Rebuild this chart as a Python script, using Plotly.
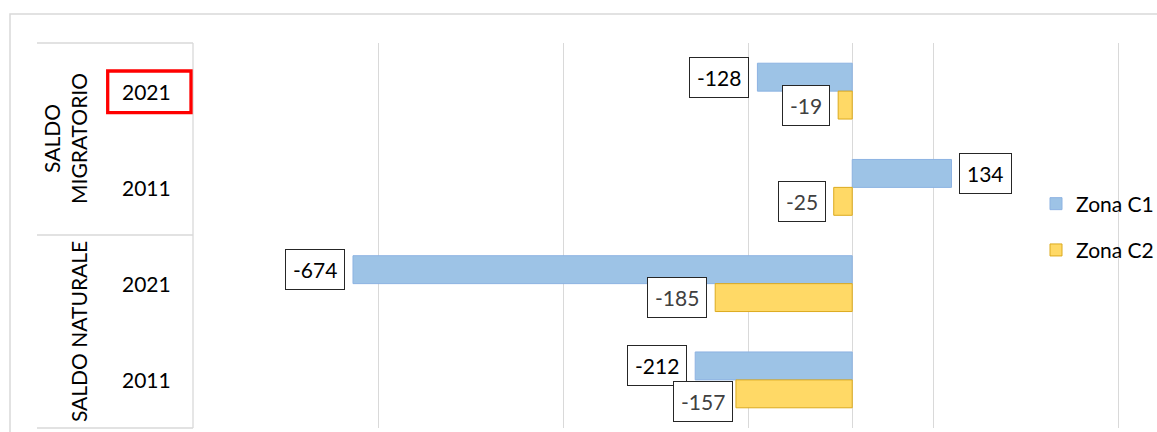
import plotly.graph_objects as go

# ---- data ----
groups = ["SALDO MIGRATORIO", "SALDO MIGRATORIO", "SALDO NATURALE", "SALDO NATURALE"]
years = ["2021", "2011", "2021", "2011"]
categories = ["SM 2021", "SM 2011", "SN 2021", "SN 2011"]
zona_c1 = [-128, 134, -674, -212]
zona_c2 = [-19, -25, -185, -157]
series_names = ["Zona C1", "Zona C2"]

FONT = "Lato, 'Open Sans', sans-serif"
W, H = 1157, 432
ML, MR, MT, MB = 193, 0, 43, 4
PLOT_RIGHT = 1119
PW, PH = W - ML - MR, H - MT - MB


def px_x(px):
    return (px - ML) / PW


def px_y(py):
    return (H - MB - py) / PH


fig = go.Figure()
fig.add_trace(go.Bar(
    y=categories, x=zona_c1, name=series_names[0], orientation="h",
    marker=dict(color="#9dc3e6", line=dict(color="#8db3e2", width=1)),
    legendgroup="c1",
))
fig.add_trace(go.Bar(
    y=categories, x=zona_c2, name=series_names[1], orientation="h",
    marker=dict(color="#ffd966", line=dict(color="#dcaa1e", width=1)),
    legendgroup="c2",
))

annotations = []
# data labels
overrides = {("c2", 3): (-3, -8)}
for key, vals, col, ysh in (("c1", zona_c1, "#000000", 14), ("c2", zona_c2, "#404040", -14)):
    for i, (cat, v) in enumerate(zip(categories, vals)):
        dx, dy = overrides.get((key, i), (-8 if v < 0 else 8, 0))
        annotations.append(dict(
            x=v, y=cat, xref="x", yref="y", text=str(v), showarrow=False,
            xanchor="right" if v < 0 else "left", yanchor="middle",
            xshift=dx, yshift=ysh + dy,
            font=dict(family=FONT, size=21, color=col),
            bordercolor="#262626", borderwidth=1, borderpad=7, bgcolor="#ffffff",
        ))

# category axis labels (years)
for i, (cat, yr) in enumerate(zip(categories, years)):
    annotations.append(dict(
        x=px_x(146), y=cat, xref="paper", yref="y", text=yr, showarrow=False,
        xanchor="center", yanchor="middle",
        font=dict(family=FONT, size=21, color="#000000"),
    ))

# group labels (rotated)
annotations.append(dict(
    x=px_x(93), y=px_y(139), xref="paper", yref="paper", text="SALDO<br>MIGRATORIO",
    showarrow=False, textangle=-90, xanchor="right", yanchor="middle",
    font=dict(family=FONT, size=21, color="#000000"),
))
annotations.append(dict(
    x=px_x(93), y=px_y(331.5), xref="paper", yref="paper", text="SALDO NATURALE",
    showarrow=False, textangle=-90, xanchor="right", yanchor="middle",
    font=dict(family=FONT, size=21, color="#000000"),
))

grid_col = "#d9d9d9"
shapes = [
    # chart outer border
    dict(type="rect", xref="paper", yref="paper", x0=px_x(10), x1=px_x(1200), y0=px_y(470), y1=px_y(14),
         line=dict(color=grid_col, width=1.5), fillcolor="rgba(0,0,0,0)", layer="below"),
    # category table lines
    dict(type="line", xref="paper", yref="paper", x0=px_x(37), x1=px_x(193), y0=px_y(43), y1=px_y(43),
         line=dict(color=grid_col, width=1.3)),
    dict(type="line", xref="paper", yref="paper", x0=px_x(37), x1=px_x(193), y0=px_y(235), y1=px_y(235),
         line=dict(color=grid_col, width=1.3)),
    dict(type="line", xref="paper", yref="paper", x0=px_x(37), x1=px_x(193), y0=px_y(428), y1=px_y(428),
         line=dict(color=grid_col, width=1.3)),
    dict(type="line", xref="paper", yref="paper", x0=px_x(193), x1=px_x(193), y0=px_y(43), y1=px_y(428),
         line=dict(color=grid_col, width=1.3)),
    # red highlight box
    dict(type="rect", xref="paper", yref="paper", x0=px_x(107.7), x1=px_x(191), y0=px_y(112.7), y1=px_y(71),
         line=dict(color="#ff0000", width=3.3), fillcolor="rgba(0,0,0,0)"),
]

fig.update_layout(
    width=W, height=H,
    margin=dict(l=ML, r=MR, t=MT, b=MB, pad=0, autoexpand=False),
    paper_bgcolor="#ffffff", plot_bgcolor="#ffffff",
    barmode="group", bargap=0.42, bargroupgap=0,
    font=dict(family=FONT, size=21, color="#000000"),
    xaxis=dict(domain=[0, px_x(PLOT_RIGHT + 1)], range=[-890, 361.5], tick0=-890, dtick=250,
               showticklabels=False,
               showgrid=True, gridcolor=grid_col, gridwidth=1.3,
               zeroline=True, zerolinecolor=grid_col, zerolinewidth=1.3,
               showline=False, ticks=""),
    yaxis=dict(categoryorder="array", categoryarray=categories, autorange="reversed",
               showticklabels=False, showgrid=False, zeroline=False, showline=False, ticks=""),
    legend=dict(x=px_x(1036), y=px_y(227), xanchor="left", yanchor="middle",
                bgcolor="rgba(0,0,0,0)", font=dict(family=FONT, size=21, color="#000000"),
                traceorder="grouped", tracegroupgap=16, itemwidth=30),
    showlegend=True,
    annotations=annotations,
    shapes=shapes,
)

fig.write_html("out.html", config={"displayModeBar": False},
               post_script="document.body.style.margin='0';document.body.style.overflow='hidden';")
